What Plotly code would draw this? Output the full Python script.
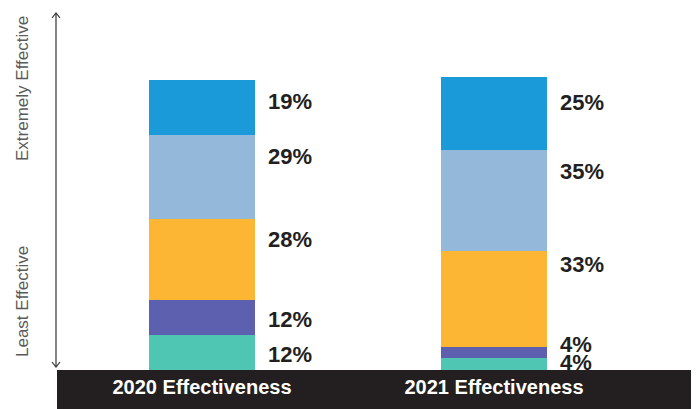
import plotly.graph_objects as go

# ---- data -------------------------------------------------------------
categories = ["2020 Effectiveness", "2021 Effectiveness"]

# stacked from least effective (bottom) to extremely effective (top), in %
level_1 = [12, 4]
level_2 = [12, 4]
level_3 = [28, 33]
level_4 = [29, 35]
level_5 = [19, 25]

series = [level_1, level_2, level_3, level_4, level_5]
series_names = ["Level 1", "Level 2", "Level 3", "Level 4", "Level 5"]
colors = ["#4fc6b4", "#5c60ae", "#fdb634", "#94b8da", "#1a9ad8"]

# how far (px) each value label sits below the top of its segment
label_drop = [
    [19, 4],
    [19, -2],
    [20, 13],
    [21, 22],
    [21, 25],
]

# ---- layout geometry (px) --------------------------------------------
W, H = 697, 409
ML, MR, MT, MB = 57, 6, 10, 39
PW, PH = W - ML - MR, H - MT - MB
PX_PER_UNIT = 2.9
Y_MAX = PH / PX_PER_UNIT
CAT_STEP_PX = 292
X0_PX = 202
x_range = [(ML - X0_PX) / CAT_STEP_PX, (W - MR - X0_PX) / CAT_STEP_PX]
BAR_W = 106 / CAT_STEP_PX


def px(xp):
    return (xp - ML) / PW


def py(yp):
    return (MT + PH - yp) / PH


fig = go.Figure()

for vals, name, col in zip(series, series_names, colors):
    fig.add_trace(go.Bar(
        x=categories, y=vals, name=name, marker=dict(color=col, line=dict(width=0)),
        width=BAR_W, showlegend=False, hoverinfo="x+y+name",
    ))

# value labels to the right of each bar
annotations = []
for ci, cat in enumerate(categories):
    cum = 0
    for si, vals in enumerate(series):
        cum += vals[ci]
        annotations.append(dict(
            x=ci + BAR_W / 2, y=cum, xref="x", yref="y",
            text=f"{vals[ci]}%", showarrow=False,
            xanchor="left", yanchor="middle",
            xshift=11, yshift=-label_drop[si][ci],
            font=dict(family="Liberation Sans, Arial, sans-serif", size=22,
                      color="#231f20", weight="bold"),
        ))

# scale captions along the left arrow
side_font = dict(family="Liberation Sans, Arial, sans-serif", size=17, color="#5a5a5a")
annotations.append(dict(x=px(22), y=py(89), xref="paper", yref="paper",
                        text="Extremely Effective", textangle=-90, showarrow=False,
                        xanchor="center", yanchor="middle", font=side_font))
annotations.append(dict(x=px(22), y=py(302), xref="paper", yref="paper",
                        text="Least Effective", textangle=-90, showarrow=False,
                        xanchor="center", yanchor="middle", font=side_font))

# double-headed scale arrow and the dark category band
ax = 56
top, bot = 13, 367
arrow_col = "#333333"
shapes = [
    dict(type="line", xref="paper", yref="paper", x0=px(ax), x1=px(ax),
         y0=py(top), y1=py(bot), line=dict(color=arrow_col, width=1.2)),
    dict(type="path", xref="paper", yref="paper",
         path=f"M{px(ax-4)},{py(top+5)} L{px(ax)},{py(top)} L{px(ax+4)},{py(top+5)}",
         line=dict(color=arrow_col, width=1.2)),
    dict(type="path", xref="paper", yref="paper",
         path=f"M{px(ax-4)},{py(bot-5)} L{px(ax)},{py(bot)} L{px(ax+4)},{py(bot-5)}",
         line=dict(color=arrow_col, width=1.2)),
    dict(type="rect", xref="paper", yref="paper", x0=0, x1=1,
         y0=-MB / PH, y1=0, fillcolor="#231f20", line=dict(width=0), layer="below"),
]

fig.update_layout(
    barmode="stack",
    width=W, height=H,
    margin=dict(l=ML, r=MR, t=MT, b=MB),
    paper_bgcolor="white", plot_bgcolor="rgba(0,0,0,0)",
    annotations=annotations, shapes=shapes,
    bargap=0,
)
fig.update_xaxes(type="category", range=x_range, showgrid=False, showline=False,
                 zeroline=False, ticks="", ticklabelstandoff=3,
                 tickfont=dict(family="Liberation Sans, Arial, sans-serif", size=20,
                               color="white", weight="bold"))
fig.update_yaxes(range=[0, Y_MAX], visible=False)

fig.write_html("out.html", config={"displayModeBar": False})
